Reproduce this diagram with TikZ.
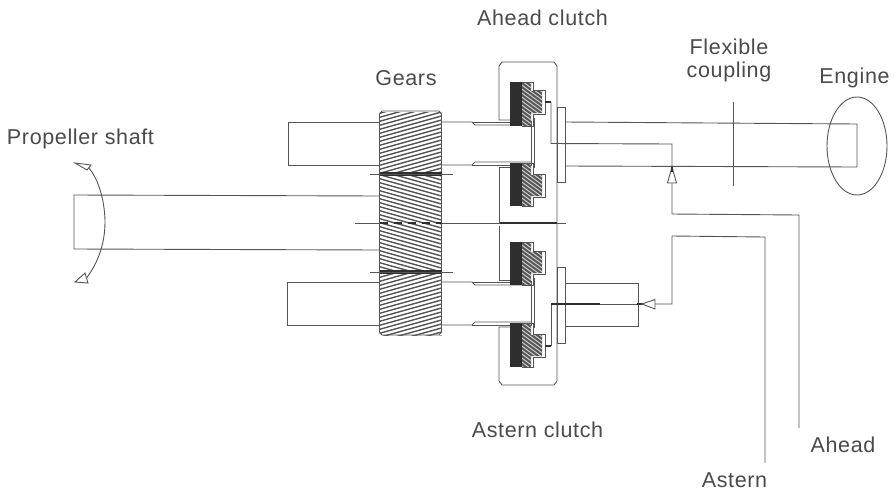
\documentclass[tikz,border=0pt]{standalone}
\usepackage{fontspec}
\setmainfont[LetterSpace=3]{Liberation Sans}
\definecolor{ink}{HTML}{555555}
\definecolor{txt}{HTML}{4A4A4A}
\definecolor{dk}{HTML}{2E2E2E}
\newcommand{\hatchband}[5]{% x1 y1 x2 y2 slope
  \begin{scope}
    \clip (#1,#2) rectangle (#3,#4);
    \foreach \yy in {-20,-16,...,400}{
      \draw[hatchline] (370,\yy) -- (450,\yy+80*#5);
    }
  \end{scope}}
\newcommand{\clutchpart}[4]{% ytop boxtop boxbot ybot
  \begin{scope}
    \clip (522,#1) -- (531,#1) -- (531,#2+1) -- (542,#2+1) -- (542,#3-1) -- (531,#3-1) -- (531,#4) -- (522,#4) -- cycle;
    \fill[ink] (520,#1) rectangle (545,#4);
    \foreach \dd in {0,4,...,80}{
      \draw[white!70!ink,line width=1pt] (515,#1+\dd-14) -- (545,#1+\dd+8);
    }
  \end{scope}
  \fill[dk] (510,#1) rectangle (522,#4);
  \draw[shaft,line width=0.7pt] (522,#1) -- (533,#1) -- (533,#2) -- (545,#2) -- (545,#3) -- (533,#3) -- (533,#4) -- (522,#4);}
\tikzset{
  shaft/.style={draw=ink,line width=0.9pt},
  hatchline/.style={draw=ink,line width=1.4pt},
  label/.style={text=txt,font=\fontsize{21.5}{23}\selectfont,inner sep=0pt,align=center},
  valve/.style={draw=ink,fill=white,line width=0.9pt}
}
\begin{document}
\begin{tikzpicture}[x=1pt,y=-1pt]
\useasboundingbox (0,0) rectangle (896,493);
% gear block
\hatchband{379.5}{112}{441.5}{174}{-0.28}
\hatchband{379.5}{174}{441.5}{223}{0.28}
\hatchband{379.5}{223}{441.5}{272}{0.28}
\hatchband{379.5}{272}{441.5}{335}{-0.28}
\draw[shaft] (382,111) -- (439,111) -- (441.5,114) -- (441.5,332) -- (439,335) -- (382,335) -- (379.5,332) -- (379.5,114) -- cycle;
\draw[dk,line width=3.6pt] (379.5,174) -- (441.5,174);
\draw[dk,line width=3.6pt] (379.5,272) -- (441.5,272);
\draw[dk,line width=1.6pt,dash pattern=on 8pt off 6pt] (379.5,223) -- (441.5,223);
\draw[shaft,line width=0.7pt] (370,174) -- (453,174);
\draw[shaft,line width=0.7pt] (370,272) -- (453,272);
\draw[shaft] (355,223) -- (379.5,223);
\draw[shaft] (441.5,223) -- (566,223);
\draw[dk,line width=2.6pt] (500,223) -- (557,223);
% upper shaft
\draw[shaft] (379.5,122) -- (288,122) -- (288,165) -- (379.5,165);
\draw[shaft] (441.5,122) -- (472,122) -- (475,125) -- (531,125);
\draw[shaft] (441.5,165) -- (472,165) -- (475,162) -- (531,162);
\draw[shaft] (472,122) -- (510,122);
\draw[shaft] (472,165) -- (510,165);
\draw[shaft] (531,121) -- (531,166);
\draw[shaft] (534,118) -- (534,168);
% lower shaft
\draw[shaft] (379.5,282) -- (287,282) -- (287,325) -- (379.5,325);
\draw[shaft] (441.5,282) -- (472,282) -- (475,285) -- (531,285);
\draw[shaft] (441.5,325) -- (472,325) -- (475,322) -- (531,322);
\draw[shaft] (472,282) -- (510,282);
\draw[shaft] (472,325) -- (510,325);
\draw[shaft] (531,281) -- (531,326);
\draw[shaft] (534,278) -- (534,328);
% propeller shaft
\draw[shaft] (379.5,196) -- (74,195) -- (74,249) -- (379.5,250);
% housing
\draw[shaft] (510,120) -- (499,120) -- (499,66) -- (502,62) -- (554,62) -- (557,66) -- (557,381) -- (554,385) -- (502,385) -- (499,381) -- (499,327) -- (510,327);
\draw[shaft] (510,167) -- (499,167) -- (499,223);
\draw[shaft] (499,226) -- (499,280) -- (510,280);
% clutches
\clutchpart{82}{90}{114}{126}
\clutchpart{163}{174}{197}{206}
\clutchpart{242}{251}{274}{285}
\clutchpart{323}{334}{357}{367}
% pressure plates
\draw[shaft,fill=white] (557,107) rectangle (565,182);
\draw[shaft,fill=white] (557,267) rectangle (565,343);
% ahead engine shaft and engine
\draw[shaft] (565,122) -- (857,124) -- (857,167) -- (565,166);
\draw[draw=ink,line width=0.9pt] (857,146) ellipse (30 and 49);
\draw[shaft] (733,102) -- (733,186);
% ahead linkage
\draw[dk,line width=1.3pt] (545,102) -- (551,102);
\draw[shaft] (551,102) -- (551,143.5) -- (672,144) -- (672,214) -- (799,215) -- (799,428);
\path[valve,draw=ink] (672,167) -- (676.5,183) -- (667.5,183) -- cycle;
\draw[dk,line width=1.3pt] (672,167) -- (672,172);
% astern engine shaft
\draw[shaft] (565,283) -- (638,283) -- (638,326) -- (565,326);
\draw[dk,line width=1.3pt] (545,346) -- (551,346);
\draw[shaft] (551,346) -- (551,304) -- (642,304);
\draw[dk,line width=1.3pt] (551,304) -- (600,304);
\draw[dk,line width=1.3pt] (637,304) -- (645,304);
\draw[shaft] (655,304) -- (672,304) -- (672,236) -- (765,237) -- (765,463);
\path[valve,draw=ink] (642,304) -- (655,299.5) -- (655,309) -- cycle;
% rotation arrow
\draw[draw=ink,line width=0.9pt] (88,167) .. controls (100,180) and (105,205) .. (105,222) .. controls (105,245) and (97,265) .. (85,280);
\path[valve,draw=ink] (75,163) -- (91,165) -- (87,170) -- cycle;
\path[valve,draw=ink] (75,282) -- (85,273) -- (88,283) -- cycle;
% labels
\node[label] (ahead) at (542.5,18) {Ahead clutch};
\node[label] (gears) at (406,78) {Gears};
\node[label] (flex) at (729,60.5) {Flexible\\coupling};
\node[label] (engine) at (854.5,78) {Engine};
\node[label] (prop) at (80.5,139) {Propeller shaft};
\node[label] (astc) at (537.5,430) {Astern clutch};
\node[label] (aheadl) at (843,445) {Ahead};
\node[label] (astl) at (734.5,480) {Astern};
\end{tikzpicture}
\end{document}
